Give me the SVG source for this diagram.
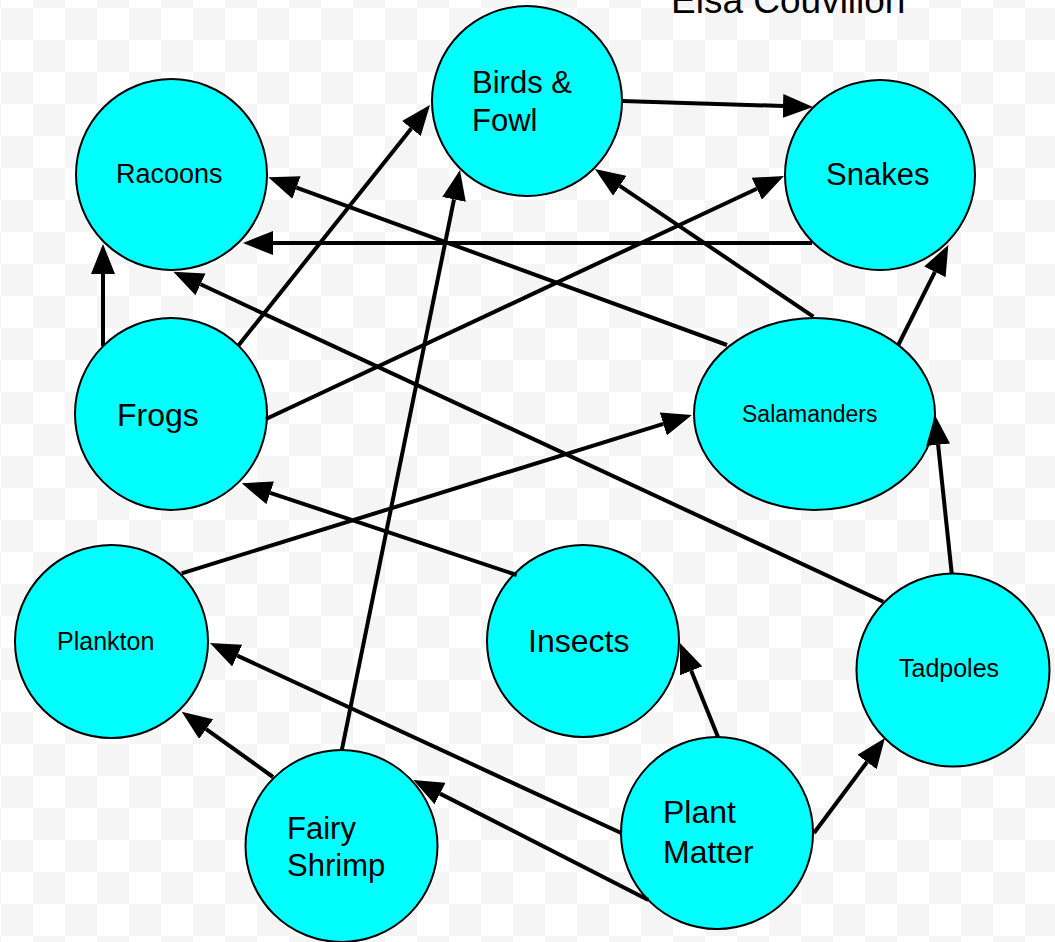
<svg xmlns="http://www.w3.org/2000/svg" width="1055" height="942" viewBox="0 0 1055 942">
<defs>
<pattern id="checker" x="1" y="8" width="64" height="64" patternUnits="userSpaceOnUse">
<rect x="0" y="0" width="64" height="64" fill="#ffffff"/>
<rect x="0" y="0" width="32" height="32" fill="#f5f5f5"/>
<rect x="32" y="32" width="32" height="32" fill="#f5f5f5"/>
</pattern>
<marker id="arrow" markerUnits="userSpaceOnUse" markerWidth="30" markerHeight="24" viewBox="0 0 30 24" refX="0" refY="12" orient="auto">
<path d="M0,0 L30,12 L0,24 Z" fill="#000"/>
</marker>
</defs>
<style>
.node{fill:#00ffff;stroke:#000;stroke-width:2}
.lbl{font-family:"Liberation Sans",Arial,sans-serif;fill:#000}
.edge{stroke:#000;stroke-width:4;fill:none;marker-end:url(#arrow)}
</style>
<rect x="0" y="0" width="1055" height="942" fill="url(#checker)"/>
<text class="lbl" x="671" y="13" font-size="37">Elsa Couvillon</text>

<g id="racoons"><circle class="node" cx="171.5" cy="174.5" r="95.5"/><text class="lbl" x="116" y="183" font-size="27">Racoons</text></g>
<g id="birds"><circle class="node" cx="527" cy="101" r="95"/><text class="lbl" x="472" y="93" font-size="31">Birds &amp;</text><text class="lbl" x="472" y="131" font-size="31">Fowl</text></g>
<g id="snakes"><circle class="node" cx="880" cy="175" r="95"/><text class="lbl" x="826" y="185" font-size="31">Snakes</text></g>
<g id="frogs"><circle class="node" cx="171" cy="414" r="96"/><text class="lbl" x="117" y="426" font-size="32">Frogs</text></g>
<g id="salamanders"><ellipse class="node" cx="814.5" cy="414" rx="120.5" ry="96"/><text class="lbl" x="742" y="422" font-size="23">Salamanders</text></g>
<g id="plankton"><circle class="node" cx="111.5" cy="641.5" r="96.5"/><text class="lbl" x="57" y="650" font-size="25">Plankton</text></g>
<g id="insects"><circle class="node" cx="583" cy="641" r="96"/><text class="lbl" x="528" y="652" font-size="32">Insects</text></g>
<g id="tadpoles"><circle class="node" cx="953" cy="670" r="96.5"/><text class="lbl" x="899" y="677" font-size="25">Tadpoles</text></g>
<g id="fairyshrimp"><circle class="node" cx="341.5" cy="846" r="96"/><text class="lbl" x="287" y="839" font-size="31">Fairy</text><text class="lbl" x="287" y="876" font-size="31">Shrimp</text></g>
<g id="plantmatter"><circle class="node" cx="717" cy="833" r="96"/><text class="lbl" x="663" y="823" font-size="32">Plant</text><text class="lbl" x="663" y="863" font-size="32">Matter</text></g>

<g id="connectors">
<line class="edge" x1="622" y1="101" x2="783" y2="106"/>
<line class="edge" x1="812" y1="243" x2="273" y2="243"/>
<line class="edge" x1="103" y1="346" x2="103" y2="274"/>
<line class="edge" x1="238" y1="346" x2="411.3" y2="128.5"/>
<line class="edge" x1="266" y1="419" x2="756.8" y2="188.7"/>
<line class="edge" x1="727" y1="345" x2="296.5" y2="187.6"/>
<line class="edge" x1="883.3" y1="601.7" x2="200.5" y2="284.3"/>
<line class="edge" x1="813.3" y1="316.7" x2="619.8" y2="185.8"/>
<line class="edge" x1="898.3" y1="345" x2="934.9" y2="271.8"/>
<line class="edge" x1="951.7" y1="573.3" x2="938.1" y2="444.8"/>
<line class="edge" x1="181.7" y1="573.3" x2="663.3" y2="423.9"/>
<line class="edge" x1="516.7" y1="575" x2="270.2" y2="492.8"/>
<line class="edge" x1="341.7" y1="750.7" x2="454" y2="199.4"/>
<line class="edge" x1="273" y1="777" x2="206.1" y2="729.1"/>
<line class="edge" x1="621.7" y1="833.3" x2="237.2" y2="655.6"/>
<line class="edge" x1="648.3" y1="900" x2="440" y2="793.6"/>
<line class="edge" x1="718" y1="737" x2="691.2" y2="670.8"/>
<line class="edge" x1="814" y1="833" x2="867" y2="762"/>
</g>
</svg>
